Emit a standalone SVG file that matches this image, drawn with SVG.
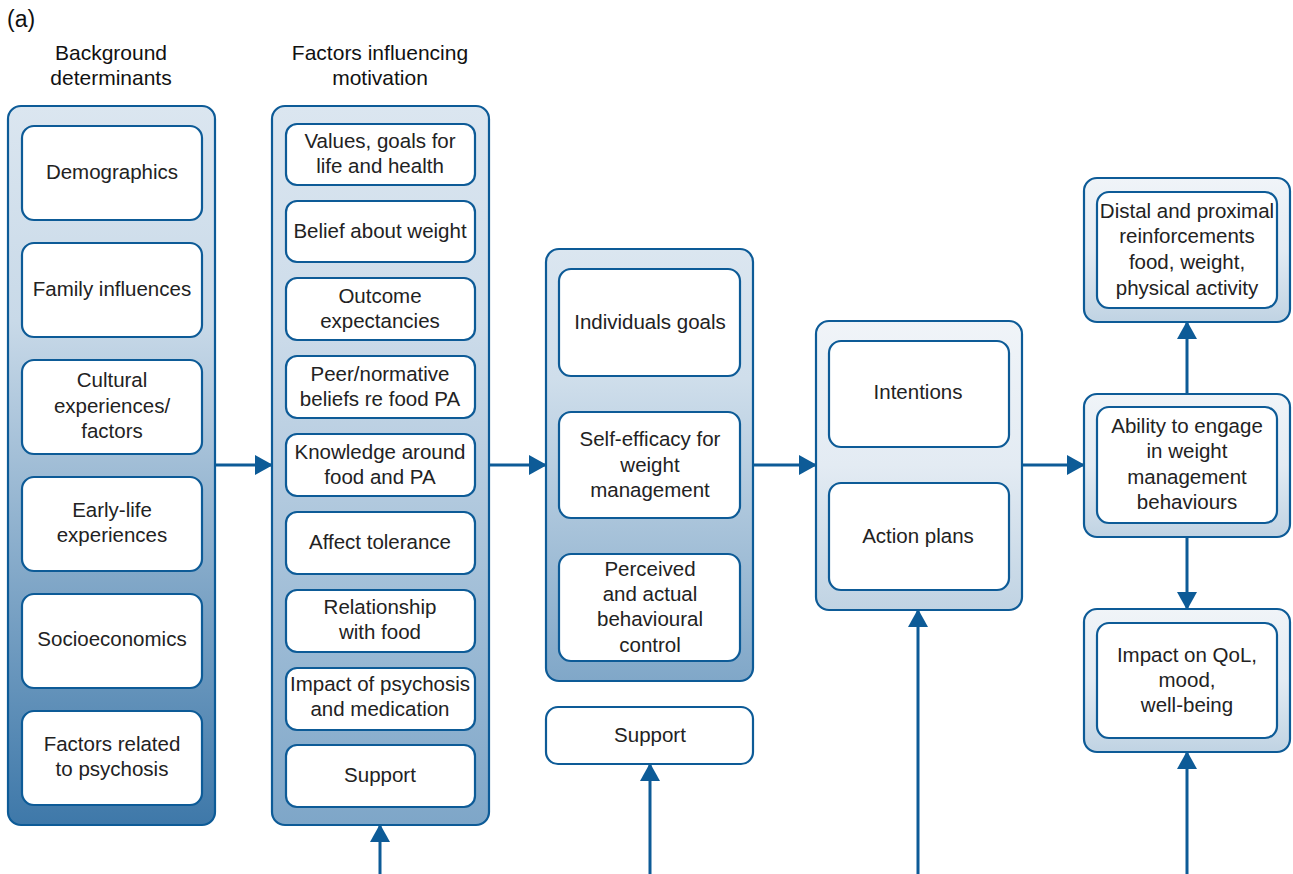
<svg xmlns="http://www.w3.org/2000/svg" width="1293" height="874" viewBox="0 0 1293 874">
<style>
.t{font-family:"Liberation Sans",Arial,sans-serif;font-size:20.5px;fill:#222;text-anchor:middle}
.h{font-family:"Liberation Sans",Arial,sans-serif;font-size:21px;fill:#111;text-anchor:middle}
.o{stroke:#0d5b97;stroke-width:2.2}
.i{fill:#fff;stroke:#0d5b97;stroke-width:2.2}
.c{stroke:#0d5b97;stroke-width:3;fill:none;marker-end:url(#ah)}
</style>
<defs>
<marker id="ah" viewBox="0 0 18 20" refX="17" refY="10" markerWidth="18" markerHeight="20" markerUnits="userSpaceOnUse" orient="auto">
<path d="M0,0 L18,10 L0,20 Z" fill="#0d5b97"/>
</marker>
<linearGradient id="g1" x1="0" y1="0" x2="0" y2="1">
<stop offset="0" stop-color="#dbe6f0"/>
<stop offset="0.3" stop-color="#c8d9e8"/>
<stop offset="1" stop-color="#3e78a9"/>
</linearGradient>
<linearGradient id="g2" x1="0" y1="0" x2="0" y2="1">
<stop offset="0" stop-color="#dbe6f0"/>
<stop offset="0.3" stop-color="#cddcea"/>
<stop offset="1" stop-color="#7ea6c8"/>
</linearGradient>
<linearGradient id="g3" x1="0" y1="0" x2="0" y2="1">
<stop offset="0" stop-color="#dbe6f0"/>
<stop offset="0.3" stop-color="#cfdeeb"/>
<stop offset="1" stop-color="#80a7c8"/>
</linearGradient>
<linearGradient id="g4" x1="0" y1="0" x2="0" y2="1">
<stop offset="0" stop-color="#f0f4f8"/>
<stop offset="0.5" stop-color="#e3ebf3"/>
<stop offset="1" stop-color="#c0d3e3"/>
</linearGradient>
</defs>
<rect width="1293" height="874" fill="#fff"/>
<text x="7" y="27" font-family="Liberation Sans,Arial,sans-serif" font-size="23" fill="#111">(a)</text>
<g id="titles">
<text class="h" x="111" y="60">Background</text>
<text class="h" x="111" y="85">determinants</text>
<text class="h" x="380" y="60">Factors influencing</text>
<text class="h" x="380" y="85">motivation</text>
</g>

<g id="connectors">
<line class="c" x1="215" y1="465" x2="272" y2="465"/>
<line class="c" x1="489" y1="465" x2="546" y2="465"/>
<line class="c" x1="753" y1="465" x2="816" y2="465"/>
<line class="c" x1="1022" y1="465" x2="1084" y2="465"/>
<line class="c" x1="1187" y1="394" x2="1187" y2="322"/>
<line class="c" x1="1187" y1="537" x2="1187" y2="609"/>
<line class="c" x1="380" y1="874" x2="380" y2="825"/>
<line class="c" x1="650" y1="874" x2="650" y2="764"/>
<line class="c" x1="918" y1="874" x2="918" y2="610"/>
<line class="c" x1="1187" y1="874" x2="1187" y2="752"/>
</g>

<g id="background-determinants">
<rect class="o" x="8" y="106" width="207" height="719" rx="13" fill="url(#g1)"/>
<rect class="i" x="22" y="126" width="180" height="94" rx="12"/>
<text class="t" x="112" y="179">Demographics</text>
<rect class="i" x="22" y="243" width="180" height="94" rx="12"/>
<text class="t" x="112" y="296">Family influences</text>
<rect class="i" x="22" y="360" width="180" height="94" rx="12"/>
<text class="t" x="112" y="387">Cultural</text>
<text class="t" x="112" y="413">experiences/</text>
<text class="t" x="112" y="438">factors</text>
<rect class="i" x="22" y="477" width="180" height="94" rx="12"/>
<text class="t" x="112" y="517">Early-life</text>
<text class="t" x="112" y="542">experiences</text>
<rect class="i" x="22" y="594" width="180" height="94" rx="12"/>
<text class="t" x="112" y="646">Socioeconomics</text>
<rect class="i" x="22" y="711" width="180" height="94" rx="12"/>
<text class="t" x="112" y="751">Factors related</text>
<text class="t" x="112" y="776">to psychosis</text>
</g>

<g id="factors-motivation">
<rect class="o" x="272" y="106" width="217" height="719" rx="13" fill="url(#g2)"/>
<rect class="i" x="286" y="124" width="189" height="61" rx="11"/>
<text class="t" x="380" y="148">Values, goals for</text>
<text class="t" x="380" y="173">life and health</text>
<rect class="i" x="286" y="201" width="189" height="61" rx="11"/>
<text class="t" x="380" y="238">Belief about weight</text>
<rect class="i" x="286" y="278" width="189" height="62" rx="11"/>
<text class="t" x="380" y="303">Outcome</text>
<text class="t" x="380" y="328">expectancies</text>
<rect class="i" x="286" y="356" width="189" height="62" rx="11"/>
<text class="t" x="380" y="381">Peer/normative</text>
<text class="t" x="380" y="406">beliefs re food PA</text>
<rect class="i" x="286" y="434" width="189" height="62" rx="11"/>
<text class="t" x="380" y="459">Knowledge around</text>
<text class="t" x="380" y="484">food and PA</text>
<rect class="i" x="286" y="512" width="189" height="62" rx="11"/>
<text class="t" x="380" y="549">Affect tolerance</text>
<rect class="i" x="286" y="590" width="189" height="62" rx="11"/>
<text class="t" x="380" y="614">Relationship</text>
<text class="t" x="380" y="639">with food</text>
<rect class="i" x="286" y="668" width="189" height="62" rx="11"/>
<text class="t" x="380" y="691">Impact of psychosis</text>
<text class="t" x="380" y="716">and medication</text>
<rect class="i" x="286" y="745" width="189" height="62" rx="11"/>
<text class="t" x="380" y="782">Support</text>
</g>

<g id="self-efficacy-group">
<rect class="o" x="546" y="249" width="207" height="432" rx="13" fill="url(#g3)"/>
<rect class="i" x="559" y="269" width="181" height="107" rx="12"/>
<text class="t" x="650" y="329">Individuals goals</text>
<rect class="i" x="559" y="412" width="181" height="106" rx="12"/>
<text class="t" x="650" y="446">Self-efficacy for</text>
<text class="t" x="650" y="472">weight</text>
<text class="t" x="650" y="497">management</text>
<rect class="i" x="559" y="554" width="181" height="107" rx="12"/>
<text class="t" x="650" y="576">Perceived</text>
<text class="t" x="650" y="601">and actual</text>
<text class="t" x="650" y="626">behavioural</text>
<text class="t" x="650" y="652">control</text>
</g>

<g id="support-3">
<rect class="i" x="546" y="707" width="207" height="57" rx="12"/>
<text class="t" x="650" y="742">Support</text>
</g>

<g id="intentions-group">
<rect class="o" x="816" y="321" width="206" height="289" rx="13" fill="url(#g4)"/>
<rect class="i" x="829" y="341" width="180" height="106" rx="12"/>
<text class="t" x="918" y="399">Intentions</text>
<rect class="i" x="829" y="483" width="180" height="107" rx="12"/>
<text class="t" x="918" y="543">Action plans</text>
</g>

<g id="reinforcements">
<rect class="o" x="1084" y="178" width="206" height="144" rx="13" fill="url(#g4)"/>
<rect class="i" x="1097" y="192" width="180" height="116" rx="12"/>
<text class="t" x="1187" y="218">Distal and proximal</text>
<text class="t" x="1187" y="243">reinforcements</text>
<text class="t" x="1187" y="269">food, weight,</text>
<text class="t" x="1187" y="295">physical activity</text>
</g>

<g id="ability">
<rect class="o" x="1084" y="394" width="206" height="143" rx="13" fill="url(#g4)"/>
<rect class="i" x="1097" y="407" width="180" height="116" rx="12"/>
<text class="t" x="1187" y="433">Ability to engage</text>
<text class="t" x="1187" y="458">in weight</text>
<text class="t" x="1187" y="484">management</text>
<text class="t" x="1187" y="509">behaviours</text>
</g>

<g id="impact">
<rect class="o" x="1084" y="609" width="206" height="143" rx="13" fill="url(#g4)"/>
<rect class="i" x="1097" y="623" width="180" height="115" rx="12"/>
<text class="t" x="1187" y="662">Impact on QoL,</text>
<text class="t" x="1187" y="687">mood,</text>
<text class="t" x="1187" y="712">well-being</text>
</g>
</svg>
